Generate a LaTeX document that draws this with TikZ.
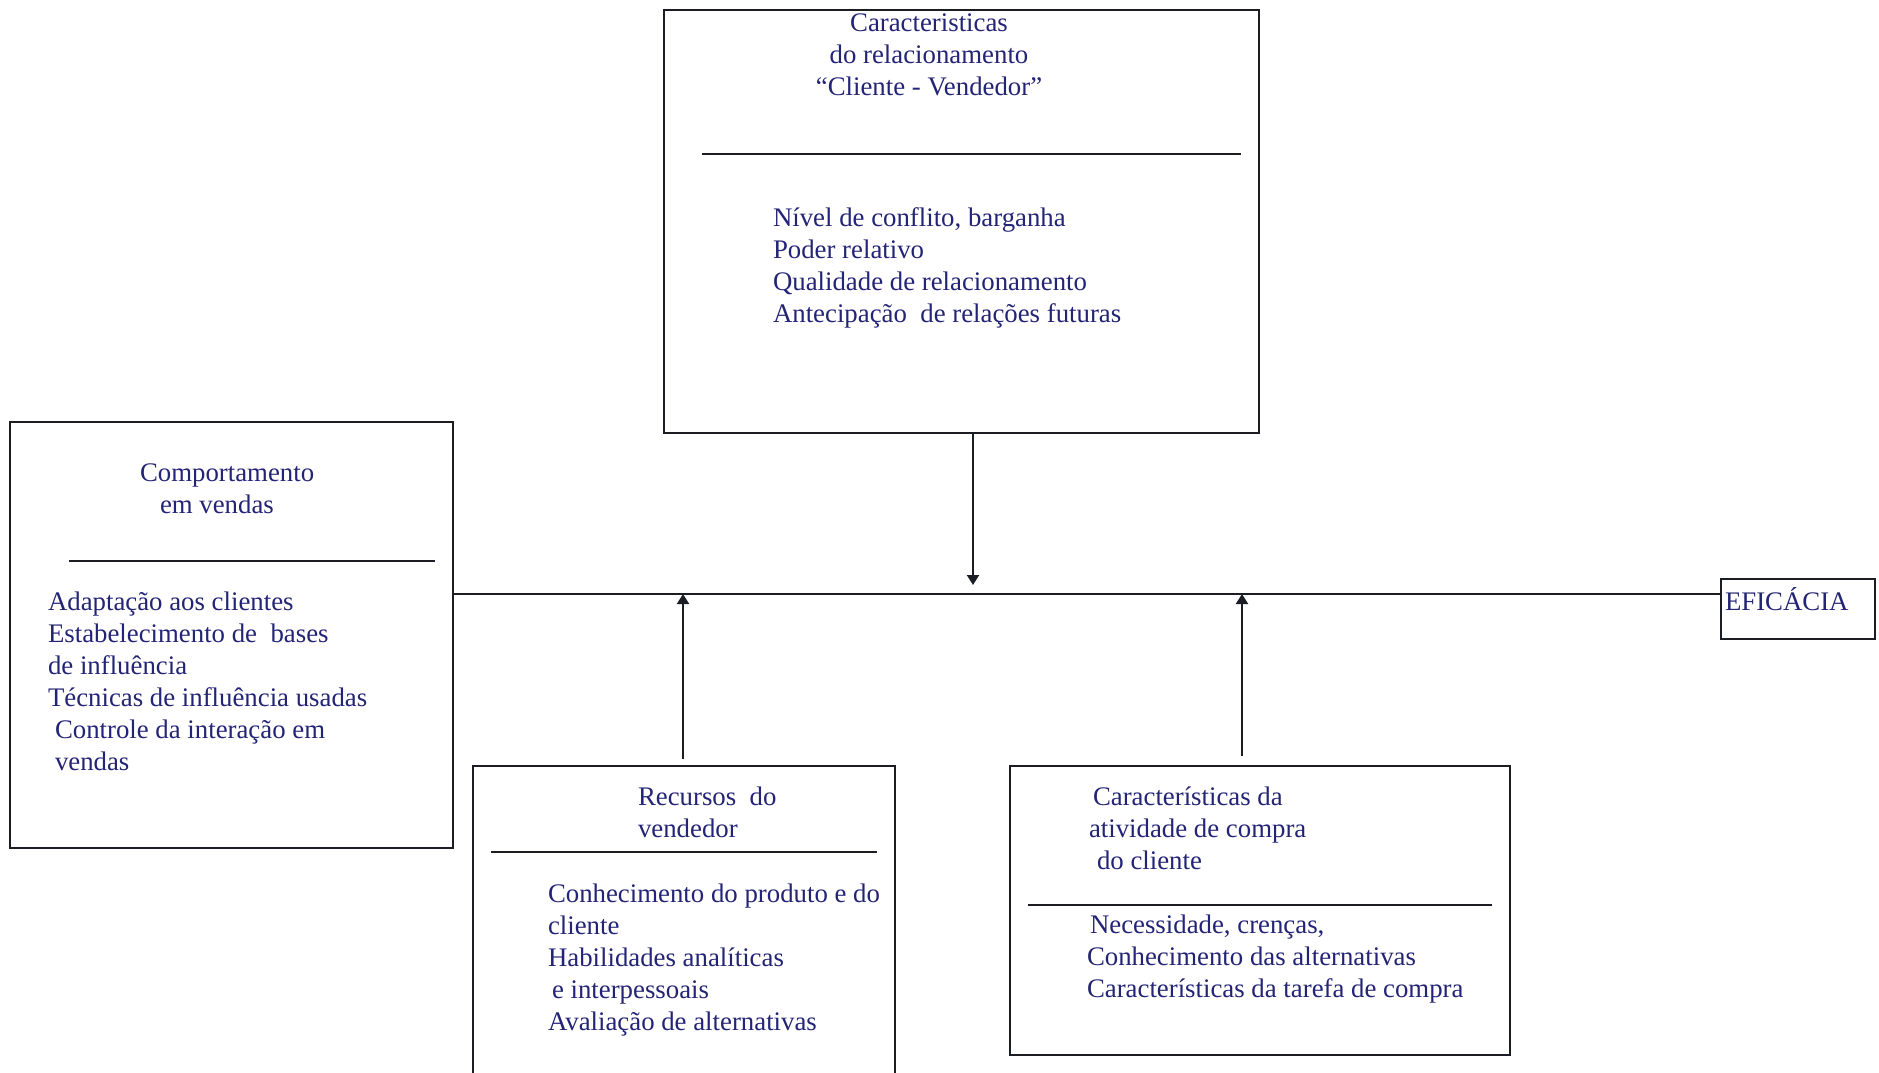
\documentclass[tikz,border=0pt]{standalone}
\usepackage{fontspec}
\setmainfont{Liberation Serif}
\usetikzlibrary{arrows.meta,fit}
\definecolor{txtblue}{RGB}{36,36,118}
\definecolor{linec}{RGB}{28,28,36}
\newcommand{\blkL}[1]{\begin{tabular}[t]{@{}l@{}}#1\end{tabular}}
\newcommand{\blkC}[1]{\begin{tabular}[t]{@{}c@{}}#1\end{tabular}}
\tikzset{
  box/.style={draw=linec, line width=1pt, inner sep=0pt, fill=none},
  sepline/.style={draw=linec, line width=1pt},
  conn/.style={draw=linec, line width=1pt},
  arr/.style={draw=linec, line width=1pt, -{Triangle[length=5pt,width=6pt]}},
  txt/.style={inner sep=0pt, outer sep=0pt, text=txtblue,
    font=\fontsize{13.4pt}{16pt}\selectfont, anchor=base west},
  ctxt/.style={txt, anchor=base}
}
\begin{document}
\begin{tikzpicture}[x=0.5pt,y=-0.5pt]
\fill[white] (0,0) rectangle (1879,1072);
\clip (0,0) rectangle (1879,1072);

% boxes
\node[box, fit={(664,10) (1259,433)}] (top) {};
\node[box, fit={(10,422) (453,848)}] (left) {};
\node[box, fit={(473,766) (895,1110)}] (rec) {};
\node[box, fit={(1010,766) (1510,1055)}] (cli) {};
\node[box, fit={(1721,579) (1875,639)}] (eff) {};

% separators
\draw[sepline] (702,154) -- (1241,154);
\draw[sepline] (69,561) -- (435,561);
\draw[sepline] (491,852) -- (877,852);
\draw[sepline] (1028,905) -- (1492,905);

% texts
\node[ctxt] (toptitle) at (929,31) {\blkC{Caracteristicas\\do relacionamento\\“Cliente - Vendedor”}};
\node[txt] (topbody) at (773,226) {\blkL{Nível de conflito, barganha\\Poder relativo\\Qualidade de relacionamento\\Antecipação\ \ de relações futuras}};

\node[txt] (lefttitle) at (140,481) {\blkL{Comportamento\\\hspace{10pt}em vendas}};
\node[txt] (leftbody) at (48,610) {\blkL{Adaptação aos clientes\\Estabelecimento de\ \ bases\\de influência\\Técnicas de influência usadas\\\hspace{3.5pt}Controle da interação em\\\hspace{3.5pt}vendas}};

\node[txt] (rectitle) at (638,805) {\blkL{Recursos\ \ do\\vendedor}};
\node[txt] (recbody) at (548,902) {\blkL{Conhecimento do produto e do\\cliente\\Habilidades analíticas\\\hspace{2pt}e interpessoais\\Avaliação de alternativas}};

\node[txt] (clititle) at (1089,805) {\blkL{\hspace{2pt}Características da\\atividade de compra\\\hspace{4pt}do cliente}};
\node[txt] (clibody) at (1087,933) {\blkL{\hspace{1.5pt}Necessidade, crenças,\\Conhecimento das alternativas\\Características da tarefa de compra}};

\node[txt] (efftxt) at (1725,610) {EFICÁCIA};

% connectors
\coordinate (lineY) at (0,594);
\coordinate (dtip) at (973,585);
\coordinate (u1tip) at (683,594);
\coordinate (u1start) at (683,759);
\coordinate (u2tip) at (1242,594);
\coordinate (u2start) at (1242,756);

\draw[conn] (left.east |- lineY) -- (eff.west |- lineY);
\draw[arr] (top.south -| dtip) -- (dtip);
\draw[arr] (u1start) -- (u1tip);
\draw[arr] (u2start) -- (u2tip);
\end{tikzpicture}
\end{document}
